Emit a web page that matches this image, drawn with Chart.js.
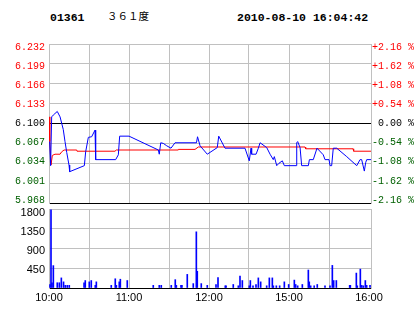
<!DOCTYPE html>
<html>
<head>
<meta charset="utf-8">
<script src="https://cdn.jsdelivr.net/npm/chart.js@4"></script>
<style>
  body { margin: 0; background: #fff; }
  #wrap { position: relative; width: 414px; height: 314px; overflow: hidden; }
  #wrap canvas { position: absolute; left: 0; top: 0; }
  .head { position: absolute; top: 12px; line-height: 12px; font-family: 'Liberation Mono', monospace; font-weight: bold; font-size: 11.5px; white-space: pre; color: #000; }
  .name { position: absolute; top: 10px; line-height: 12px; font-family: 'Noto Sans CJK SC', sans-serif; font-size: 10.5px; white-space: pre; color: #000; }
</style>
</head>
<body>
<div id="wrap">
  <span class="head" style="left:50px">01361</span>
  <span class="name" style="left:107px">３６１度</span>
  <span class="head" style="left:237px">2010-08-10 16:04:42</span>
  <canvas id="priceChart" width="414" height="314"></canvas>
  <canvas id="volChart" width="414" height="314"></canvas>
</div>
<script>
// minutes from 10:00 (lunch break removed: 12:30 -> 14:30)
const prevClose = 6.100;

const priceMin = [0.5, 1.2, 2.0, 3.2, 6.2, 8.3, 10.7, 12.0, 13.3, 15.0, 15.5, 26.5, 27.5, 29.5, 32.0, 34.5, 35.0, 50.0,
    52.0, 53.0, 60.0, 82.0, 82.7, 83.8, 85.7, 88.3, 91.5, 94.5, 110.6, 111.4, 113.3, 118.7, 126.2, 127.3, 132.0, 147.0,
    150.2, 151.5, 152.0, 155.3, 157.0, 158.3, 163.3, 165.8, 168.2, 169.0, 170.8, 172.5, 175.0, 176.5, 185.3, 185.8,
    186.5, 188.3, 189.5, 194.5, 195.3, 198.2, 201.0, 205.7, 207.0, 210.0, 210.8, 212.0, 213.2, 215.8, 223.3, 230.8,
    233.3, 234.5, 236.5, 237.5, 238.3, 241.5];
const priceVal = [6.070, 6.030, 6.111, 6.114, 6.120, 6.111, 6.090, 6.070, 6.052, 6.031, 6.020, 6.030, 6.053, 6.077, 6.078,
    6.089, 6.040, 6.040, 6.048, 6.079, 6.079, 6.056, 6.049, 6.068, 6.067, 6.063, 6.059, 6.068, 6.068, 6.078, 6.063, 6.049,
    6.060, 6.079, 6.059, 6.059, 6.038, 6.059, 6.049, 6.049, 6.059, 6.068, 6.060, 6.049, 6.040, 6.045, 6.030, 6.034, 6.038,
    6.030, 6.030, 6.068, 6.070, 6.060, 6.030, 6.030, 6.040, 6.040, 6.059, 6.048, 6.040, 6.040, 6.030, 6.030, 6.059, 6.059,
    6.045, 6.030, 6.040, 6.040, 6.021, 6.035, 6.040, 6.040];

const avgMin = [0, 0.6, 1.5, 2.0, 2.5, 4.5, 8.3, 9.5, 11.3, 20.8, 21.0, 49.5, 50.5, 96.8, 97.0, 109.5, 112.0, 192.0, 192.5,
    228.0, 228.5, 241.5];
const avgVal = [6.111, 6.070, 6.031, 6.031, 6.047, 6.049, 6.049, 6.053, 6.056, 6.056, 6.054, 6.054, 6.056, 6.056, 6.057,
    6.057, 6.061, 6.061, 6.058, 6.058, 6.054, 6.054];

const volMin = [0.75, 1.5, 2.25, 3.25, 6.2, 7.75, 9.25, 10.9, 12.2, 13.7, 15.2, 26.3, 27.2, 30.2, 31.7, 34.7, 35.5, 46.7,
    49.7, 50.5, 52.7, 53.5, 58.7, 78.2, 82.7, 84.2, 91.7, 94.7, 95.5, 99, 99.7, 103.7, 108.2, 110.5, 111.2, 114.2, 118.7,
    125.25, 126.75, 132.2, 132.8, 138.2, 142, 143.25, 145, 150.2, 151, 153, 155.25, 157, 158.75, 163.25, 165.25, 167.5,
    168.25, 170.5, 173, 176.5, 179.75, 184, 185, 186.5, 190, 194.5, 195.2, 196.25, 198.9, 201.2, 207, 210.75, 212.5,
    213.5, 215.5, 225.5, 226, 230.5, 231.2, 233.5, 234.5, 235.7, 237.25, 238.25, 240.75];
const volVal = [80, 1780, 120, 510, 120, 120, 230, 140, 60, 60, 60, 120, 170, 140, 170, 60, 140, 60,
    210, 60, 140, 200, 170, 60, 60, 60, 60, 190, 60, 60, 60, 310, 100, 1280, 380, 100, 60,
    80, 235, 50, 50, 80, 50, 270, 170, 50, 170, 50, 80, 230, 140, 50, 230, 230,
    50, 50, 50, 140, 80, 180, 80, 50, 80, 410, 140, 50, 50, 80, 50, 50, 515,
    170, 170, 60, 60, 340, 50, 430, 60, 50, 170, 60, 60];

const priceTicks = [5.968, 6.001, 6.034, 6.067, 6.100, 6.133, 6.166, 6.199, 6.232];
const pctLabels = ['-2.16 %', '-1.62 %', '-1.08 %', '-0.54 %', ' 0.00 %', '+0.54 %', '+1.08 %', '+1.62 %', '+2.16 %'];
const volTicks = [0, 450, 900, 1350, 1800];
const volLabelTicks = [450, 900, 1350, 1800];
const gridMin = [0, 30, 60, 90, 120, 150, 180, 210, 240];
const timeLabels = { 0: '10:00', 60: '11:00', 120: '12:00', 180: '15:00', 240: '16:00' };

// label axes run a bit past the grid so the end labels sit inside the panel
const priceLabelRange = [5.9628, 6.2372];
const volLabelRange = [24, 1895];

const gridGray = '#c0c0c0';
const upColor = '#ff0000';
const downColor = '#006000';
const monoFont = { family: 'Liberation Mono', size: 10 };
const sansFont = { family: 'Liberation Sans', size: 11 };

function toPoints(xs, ys) {
    return xs.map((x, i) => ({ x: x, y: ys[i] }));
}

function setTicks(values) {
    return scale => { scale.ticks = values.map(v => ({ value: v })); };
}

function tickColor(ctx) {
    const v = ctx.tick.value;
    if (Math.abs(v - prevClose) < 0.0005) return '#000';
    return v > prevClose ? upColor : downColor;
}

function xAxis(showLabels) {
    return {
        type: 'linear', min: 0, max: 241.5, offset: false,
        afterBuildTicks: setTicks(gridMin),
        afterFit: s => { s.height = showLabels ? 26 : 0; },
        ticks: {
            display: showLabels, autoSkip: false, maxRotation: 0, padding: 3,
            font: sansFont, color: '#000',
            callback: v => timeLabels[v] || ''
        },
        grid: { drawTicks: false, offset: false, color: ctx => ctx.tick && ctx.tick.value === 240 ? 'rgba(0,0,0,0)' : gridGray },
        border: { color: '#000' }
    };
}

// axis that only carries the gridlines
function gridAxis(min, max, values, colorFn) {
    return {
        position: 'left', min: min, max: max,
        afterBuildTicks: setTicks(values),
        afterFit: s => { s.width = 0; },
        ticks: { display: false },
        grid: { drawTicks: false, color: colorFn },
        border: { display: false }
    };
}

// axis that only carries the labels
function labelAxis(pos, range, values, width, ticks) {
    return {
        position: pos, min: range[0], max: range[1],
        afterBuildTicks: setTicks(values),
        afterFit: s => { s.width = width; },
        ticks: ticks,
        grid: { display: false, drawTicks: false },
        border: { color: gridGray }
    };
}

new Chart(document.getElementById('priceChart'), {
    type: 'line',
    data: {
        datasets: [
            { data: toPoints(priceMin, priceVal), borderColor: '#0000ff', borderWidth: 1, pointRadius: 0, tension: 0, yAxisID: 'y' },
            { data: toPoints(avgMin, avgVal), borderColor: '#ff0000', borderWidth: 1, pointRadius: 0, tension: 0, yAxisID: 'y' }
        ]
    },
    options: {
        responsive: false,
        animation: false,
        layout: { padding: { top: 44, bottom: 111, left: 0, right: 0 } },
        plugins: { legend: { display: false }, tooltip: { enabled: false } },
        scales: {
            x: xAxis(false),
            yl: labelAxis('left', priceLabelRange, priceTicks, 49,
                { font: monoFont, color: tickColor, padding: 4, callback: (v, i) => priceTicks[i].toFixed(3) }),
            y: gridAxis(5.968, 6.232, priceTicks,
                ctx => Math.abs(ctx.tick.value - prevClose) < 0.0005 ? '#000' : gridGray),
            y2: labelAxis('right', priceLabelRange, priceTicks, 43,
                { font: monoFont, color: tickColor, padding: 1, callback: (v, i) => pctLabels[i] })
        }
    }
});

new Chart(document.getElementById('volChart'), {
    type: 'bar',
    data: {
        datasets: [
            { data: toPoints(volMin, volVal), backgroundColor: '#0000ff', barThickness: 1, yAxisID: 'y' }
        ]
    },
    options: {
        responsive: false,
        animation: false,
        layout: { padding: { top: 209, bottom: 0, left: 0, right: 0 } },
        plugins: { legend: { display: false }, tooltip: { enabled: false } },
        scales: {
            x: xAxis(true),
            yl: labelAxis('left', volLabelRange, volLabelTicks, 49,
                { font: sansFont, color: '#000', padding: 4, callback: (v, i) => volLabelTicks[i] }),
            y: gridAxis(0, 1800, volTicks, gridGray),
            yr: labelAxis('right', [0, 1800], [], 43, { display: false })
        }
    }
});
</script>
</body>
</html>
